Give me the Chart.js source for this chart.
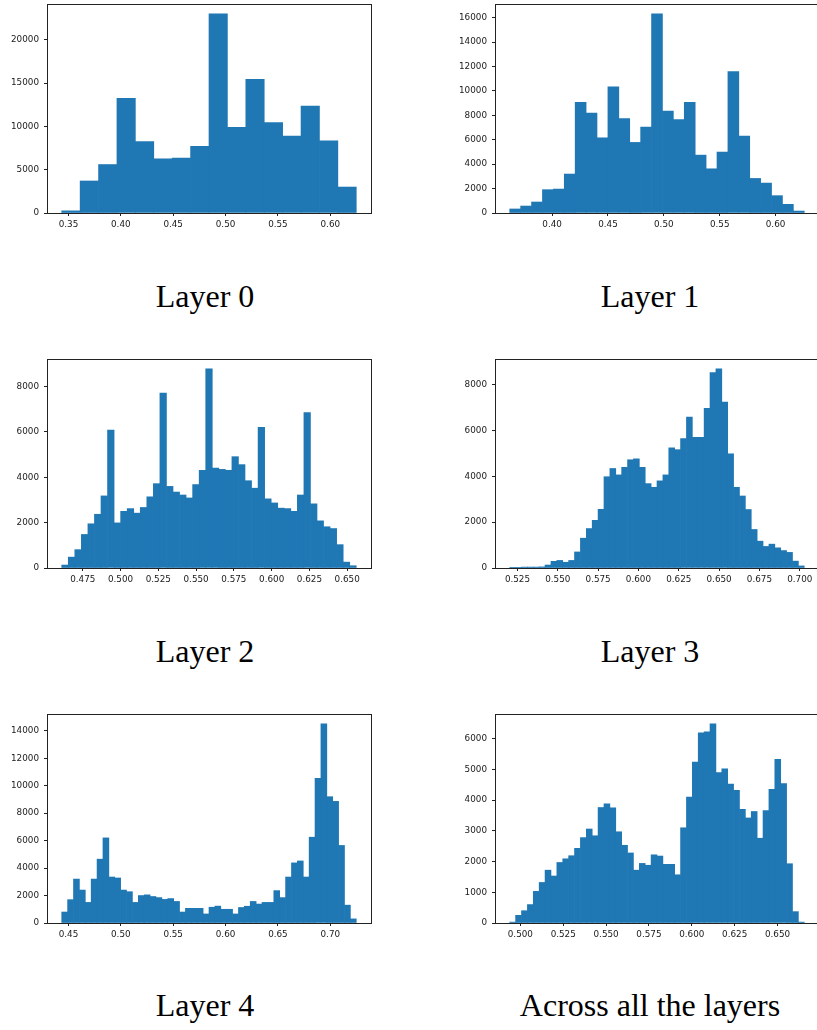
<!DOCTYPE html>
<html>
<head>
<meta charset="utf-8">
<script src="https://cdn.jsdelivr.net/npm/chart.js@4.4.1/dist/chart.umd.min.js"></script>
<style>
  html, body { margin: 0; padding: 0; background: #fff; overflow: hidden; }
  #page { position: relative; width: 817px; height: 1030px; overflow: hidden; }
  #page canvas { position: absolute; }
  .caption {
    position: absolute;
    font-family: "Liberation Serif", serif;
    font-size: 32px;
    line-height: 32px;
    color: #000;
    white-space: nowrap;
    transform: translateX(-50%);
  }
</style>
</head>
<body>
<div id="page"></div>
<script>
// histogram bins: [first edge, last edge] and counts per bin
const layer0Range = [0.3436, 0.6248];
const layer0Counts = [250, 3700, 5600, 13250, 8250, 6250, 6350, 7700, 23000, 9900, 15450, 10450, 8900, 12350, 8350, 3000];
const layer0XTicks = [0.35, 0.40, 0.45, 0.50, 0.55, 0.60];
const layer0XLabels = ["0.35", "0.40", "0.45", "0.50", "0.55", "0.60"];
const layer0YTicks = [0, 5000, 10000, 15000, 20000];

const layer1Range = [0.3621, 0.6257];
const layer1Counts = [330, 570, 900, 1910, 1960, 3190, 9070, 8180, 6160, 10330, 7740, 5780, 7030, 16300,
  8340, 7660, 9070, 4740, 3620, 4990, 11580, 6300, 2830, 2450, 1420, 710, 160];
const layer1XTicks = [0.40, 0.45, 0.50, 0.55, 0.60];
const layer1XLabels = ["0.40", "0.45", "0.50", "0.55", "0.60"];
const layer1YTicks = [0, 2000, 4000, 6000, 8000, 10000, 12000, 14000, 16000];

const layer2Range = [0.4611, 0.6560];
const layer2Counts = [130, 480, 810, 1480, 1950, 2370, 3180, 6080, 1990, 2500, 2620, 2420, 2670, 3140, 3720,
  7720, 3600, 3350, 3220, 3090, 3680, 4310, 8780, 4410, 4350, 4310, 4910, 4560, 3850, 3520,
  6200, 3050, 2870, 2640, 2620, 2500, 3220, 6860, 2830, 2080, 1820, 1740, 1030, 260, 100];
const layer2XTicks = [0.475, 0.500, 0.525, 0.550, 0.575, 0.600, 0.625, 0.650];
const layer2XLabels = ["0.475", "0.500", "0.525", "0.550", "0.575", "0.600", "0.625", "0.650"];
const layer2YTicks = [0, 2000, 4000, 6000, 8000];

const layer3Range = [0.5202, 0.7028];
const layer3Counts = [5, 30, 40, 40, 40, 50, 130, 290, 330, 250, 330, 700, 1300, 1720, 2080, 2560, 3980,
  4340, 4060, 4390, 4720, 4760, 4390, 3680, 3520, 3800, 4060, 5240, 5160, 5640, 6580, 5700, 5700,
  6960, 8520, 8680, 7240, 4980, 3520, 3140, 2550, 1680, 1170, 940, 1040, 880, 760, 680, 300, 90];
const layer3XTicks = [0.525, 0.550, 0.575, 0.600, 0.625, 0.650, 0.675, 0.700];
const layer3XLabels = ["0.525", "0.550", "0.575", "0.600", "0.625", "0.650", "0.675", "0.700"];
const layer3YTicks = [0, 2000, 4000, 6000, 8000];

const layer4Range = [0.4436, 0.7248];
const layer4Counts = [800, 1700, 3200, 2400, 1500, 3200, 4650, 6200, 3350, 3280, 2400, 2280, 1500, 2000,
  2050, 1930, 1850, 1720, 1780, 1570, 800, 1070, 1070, 1070, 660, 1150, 1230, 1000, 1000, 660, 1130,
  1220, 1570, 1380, 1500, 1500, 2360, 1850, 3350, 4380, 4520, 3350, 6250, 10540, 14500, 9200, 8860,
  5650, 1300, 300];
const layer4XTicks = [0.45, 0.50, 0.55, 0.60, 0.65, 0.70];
const layer4XLabels = ["0.45", "0.50", "0.55", "0.60", "0.65", "0.70"];
const layer4YTicks = [0, 2000, 4000, 6000, 8000, 10000, 12000, 14000];

const allRange = [0.4938, 0.6656];
const allCounts = [30, 250, 400, 600, 1030, 1320, 1720, 1530, 1970, 2090, 2190, 2430, 2780, 3060, 2840,
  3760, 3880, 3750, 2970, 2530, 2280, 1720, 1940, 1880, 2220, 2180, 1910, 1910, 1570, 3100, 4100,
  5240, 6190, 6220, 6480, 4900, 5020, 4520, 4320, 3700, 3420, 3630, 2760, 3660, 4350, 5330, 4540,
  1930, 370, 30];
const allXTicks = [0.500, 0.525, 0.550, 0.575, 0.600, 0.625, 0.650];
const allXLabels = ["0.500", "0.525", "0.550", "0.575", "0.600", "0.625", "0.650"];
const allYTicks = [0, 1000, 2000, 3000, 4000, 5000, 6000];

const captions = ["Layer 0", "Layer 1", "Layer 2", "Layer 3", "Layer 4", "Across all the layers"];

const BLUE = "#1f77b4";
const AX_W = 324, AX_H = 209;
const Y_AXIS_W = 47, X_AXIS_H = 26, PAD = 4;

// frame (all four spines)
const framePlugin = {
  id: "frame",
  afterDatasetsDraw(chart) {
    const { ctx, chartArea: a } = chart;
    ctx.save();
    ctx.strokeStyle = "#222";
    ctx.lineWidth = 1;
    ctx.strokeRect(a.left + 0.5, a.top + 0.5, a.width, a.height);
    ctx.restore();
  }
};

function binCenters(range, counts) {
  const w = (range[1] - range[0]) / counts.length;
  return counts.map((c, i) => ({ x: range[0] + (i + 0.5) * w, y: c }));
}

function noPadding(s) {
  s.paddingTop = 0; s.paddingBottom = 0; s.paddingLeft = 0; s.paddingRight = 0;
}

function buildHist(opts) {
  const page = document.getElementById("page");
  const canvas = document.createElement("canvas");
  canvas.width = Y_AXIS_W + AX_W + PAD;
  canvas.height = PAD + AX_H + X_AXIS_H;
  canvas.style.left = (opts.left - Y_AXIS_W) + "px";
  canvas.style.top = (opts.top - PAD) + "px";
  page.appendChild(canvas);

  const span = opts.range[1] - opts.range[0];
  const tickFont = { family: "DejaVu Sans", size: 8.8 };
  const tickGrid = { display: true, drawOnChartArea: false, drawTicks: true, tickLength: 3, color: "#222", lineWidth: 1, offset: false };

  new Chart(canvas, {
    type: "bar",
    data: {
      datasets: [{
        data: binCenters(opts.range, opts.counts),
        backgroundColor: BLUE,
        borderWidth: 0,
        barPercentage: 1,
        categoryPercentage: 1
      }]
    },
    options: {
      responsive: false,
      animation: false,
      events: [],
      layout: { padding: { top: PAD, right: PAD, left: 0, bottom: 0 } },
      plugins: { legend: { display: false }, tooltip: { enabled: false } },
      scales: {
        x: {
          type: "linear",
          offset: false,
          min: opts.range[0] - 0.05 * span,
          max: opts.range[1] + 0.05 * span,
          afterBuildTicks: s => { s.ticks = opts.xTicks.map(v => ({ value: v })); },
          afterFit: s => { s.height = X_AXIS_H; noPadding(s); },
          grid: tickGrid,
          border: { display: false },
          ticks: {
            autoSkip: false, maxRotation: 0, padding: 3, color: "#1a1a1a", font: tickFont,
            callback: (v, i) => opts.xLabels[i]
          }
        },
        y: {
          type: "linear",
          min: 0,
          max: Math.max(...opts.counts) * 1.05,
          afterBuildTicks: s => { s.ticks = opts.yTicks.map(v => ({ value: v })); },
          afterFit: s => { s.width = Y_AXIS_W; noPadding(s); },
          grid: tickGrid,
          border: { display: false },
          ticks: { padding: 5, color: "#1a1a1a", font: tickFont, callback: v => String(v) }
        }
      }
    },
    plugins: [framePlugin]
  });

  const cap = document.createElement("div");
  cap.className = "caption";
  cap.textContent = opts.caption;
  cap.style.left = opts.capX + "px";
  cap.style.top = opts.capY + "px";
  page.appendChild(cap);
}

const panels = [
  { left: 47, top: 4, range: layer0Range, counts: layer0Counts, xTicks: layer0XTicks, xLabels: layer0XLabels, yTicks: layer0YTicks, caption: captions[0], capX: 205, capY: 280 },
  { left: 495, top: 4, range: layer1Range, counts: layer1Counts, xTicks: layer1XTicks, xLabels: layer1XLabels, yTicks: layer1YTicks, caption: captions[1], capX: 650, capY: 280 },
  { left: 47, top: 359, range: layer2Range, counts: layer2Counts, xTicks: layer2XTicks, xLabels: layer2XLabels, yTicks: layer2YTicks, caption: captions[2], capX: 205, capY: 635 },
  { left: 495, top: 359, range: layer3Range, counts: layer3Counts, xTicks: layer3XTicks, xLabels: layer3XLabels, yTicks: layer3YTicks, caption: captions[3], capX: 650, capY: 635 },
  { left: 47, top: 714, range: layer4Range, counts: layer4Counts, xTicks: layer4XTicks, xLabels: layer4XLabels, yTicks: layer4YTicks, caption: captions[4], capX: 205, capY: 989 },
  { left: 495, top: 714, range: allRange, counts: allCounts, xTicks: allXTicks, xLabels: allXLabels, yTicks: allYTicks, caption: captions[5], capX: 650, capY: 989 }
];

panels.forEach(buildHist);
</script>
</body>
</html>
